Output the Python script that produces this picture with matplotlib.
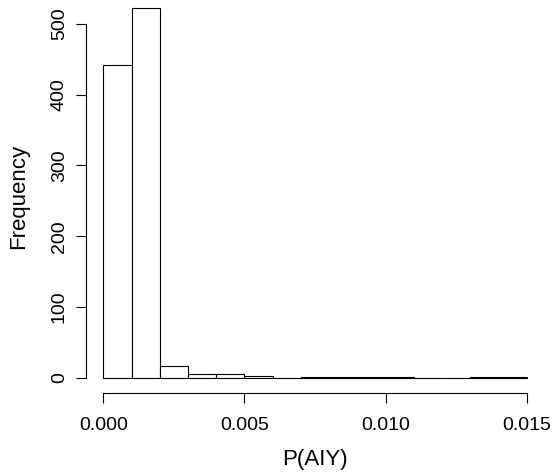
import matplotlib
matplotlib.use("Agg")
import matplotlib.pyplot as plt

bin_edges = [0.000, 0.001, 0.002, 0.003, 0.004, 0.005, 0.006, 0.007,
             0.008, 0.009, 0.010, 0.011, 0.012, 0.013, 0.014, 0.015]
counts = [442, 523, 17, 5, 5, 2, 0, 1, 1, 1, 1, 0, 0, 1, 1]
x_ticks = [0.000, 0.005, 0.010, 0.015]
x_tick_labels = ["0.000", "0.005", "0.010", "0.015"]
y_ticks = [0, 100, 200, 300, 400, 500]
x_label = "P(AIY)"
y_label = "Frequency"

plt.rcParams['font.family'] = ['Liberation Sans', 'DejaVu Sans']
plt.rcParams['font.size'] = 14

W, H = 555, 472
fig = plt.figure(figsize=(W / 100, H / 100), dpi=100)
left_px, right_px, bottom_px, top_px = 86.4, 543.6, 392.5, 0.0
ax = fig.add_axes([left_px / W, 1 - bottom_px / H,
                   (right_px - left_px) / W, (bottom_px - top_px) / H])

widths = [bin_edges[i + 1] - bin_edges[i] for i in range(len(counts))]
ax.bar(bin_edges[:-1], counts, width=widths, align='edge',
       facecolor='white', edgecolor='black', linewidth=0.8)

ax.set_xlim(-0.0006, 0.0156)
ax.set_ylim(-20.9, 533.9)

for s in ['top', 'right']:
    ax.spines[s].set_visible(False)
ax.spines['bottom'].set_bounds(0, 0.015)
ax.spines['left'].set_bounds(0, 500)
ax.spines['bottom'].set_linewidth(0.8)
ax.spines['left'].set_linewidth(0.8)

ax.set_xticks(x_ticks)
ax.set_xticklabels(x_tick_labels)
ax.set_yticks(y_ticks)
ax.set_yticklabels([str(v) for v in y_ticks], rotation=90, va='center')
ax.tick_params(axis='x', length=7.4, width=0.8, pad=10, labelsize=14)
ax.tick_params(axis='y', length=7.4, width=0.8, pad=6, labelsize=14)

ax.set_xlabel(x_label, fontsize=16, labelpad=11)
fig.text(19 / W, 1 - 196 / H, y_label, rotation=90, ha='center',
         va='center', fontsize=16)

fig.savefig("out.png", dpi=100)
